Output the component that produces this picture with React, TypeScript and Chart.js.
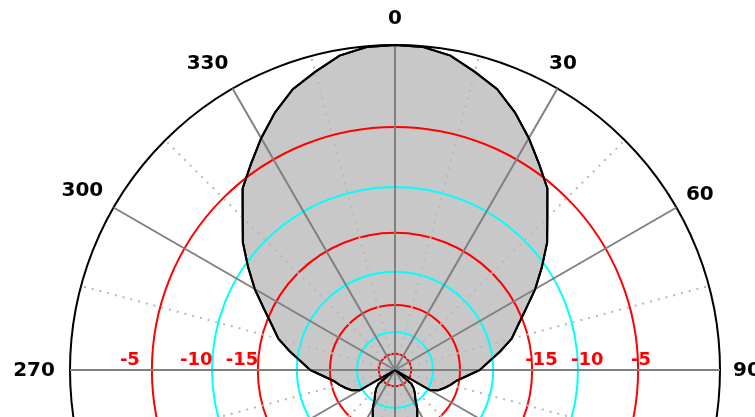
import React, { useEffect, useRef } from 'react';
import { Chart, registerables, RadialLinearScale } from 'chart.js';

Chart.register(...registerables);

// Azimuth angles (degrees, clockwise from top)
const ANGLES = [
  0, 5, 10, 15, 20, 25, 30, 35, 40, 45, 50, 55, 60, 65, 70, 75, 80, 85,
  90, 95, 100, 105, 110, 115, 120, 125, 130, 135, 140, 145, 150, 155, 160, 165, 170, 175,
  180, 185, 190, 195, 200, 205, 210, 215, 220, 225, 230, 235, 240, 245, 250, 255, 260, 265,
  270, 275, 280, 285, 290, 295, 300, 305, 310, 315, 320, 325, 330, 335, 340, 345, 350, 355,
];

// Relative gain in dB for each angle
const GAIN_DB = [
  0, -0.05, -0.35, -1.0, -1.6, -2.5, -3.5, -4.5, -5.5, -7.3, -8.7, -10.4, -12.3, -14.2, -15.8, -17.1, -18.9, -20.6,
  -22.0, -24.0, -25.5, -26.4, -27.3, -28.2, -29.5, -40, -33.8, -32.6, -31.6, -30.6, -28.8, -27.3, -26.3, -25.7, -25.2, -25.0,
  -24.9, -25.0, -25.2, -25.7, -26.3, -27.3, -28.8, -30.6, -31.6, -32.6, -33.8, -40, -29.5, -28.2, -27.3, -26.4, -25.5, -24.0,
  -22.0, -20.6, -18.9, -17.1, -15.8, -14.2, -12.3, -10.4, -8.7, -7.3, -5.5, -4.5, -3.5, -2.5, -1.6, -1.0, -0.35, -0.05,
];

// Log-style (ARRL-like) radial scale: ring dB values and their fraction of the outer radius
const RING_DB = [-40, -35, -30, -25, -20, -15, -10, -5, 0];
const RING_FRAC = [0, 0.05, 0.117, 0.2, 0.302, 0.422, 0.563, 0.748, 1];

const RING_LABELS = [-5, -10, -15];
const ANGLE_LABELS = [0, 30, 60, 90, 270, 300, 330];

function dbToFrac(v: number): number {
  if (v <= RING_DB[0]) return 0;
  for (let i = 1; i < RING_DB.length; i++) {
    if (v <= RING_DB[i]) {
      const t = (v - RING_DB[i - 1]) / (RING_DB[i] - RING_DB[i - 1]);
      return RING_FRAC[i - 1] + t * (RING_FRAC[i] - RING_FRAC[i - 1]);
    }
  }
  return 1;
}

class ArrlScale extends (RadialLinearScale as any) {
  static id = 'arrl';
  getDistanceFromCenterForValue(value: any) {
    if (value === null || value === undefined || isNaN(value)) return NaN;
    return (this as any).drawingArea * dbToFrac(value);
  }
}
Chart.register(ArrlScale as any);

function ringColor(v: number): string {
  if (v === 0) return '#000000';
  if (v <= -40) return 'rgba(0,0,0,0)';
  const k = Math.round(-v / 5);
  return k % 2 === 1 ? '#ff0000' : '#00ffff';
}

// small placement nudges for the angle labels (style only)
function labelNudge(a: number): [number, number] {
  if (a === 30) return [-8, -2];
  if (a === 330) return [-7, 5];
  return [0, 0];
}

const overlayPlugin = {
  id: 'overlay',
  afterDraw(chart: any) {
    const ctx = chart.ctx;
    const meta = chart.getDatasetMeta(0);
    if (meta && meta.dataset) meta.dataset.draw(ctx, chart.chartArea);
    const s = chart.scales.r;
    const cx = s.xCenter;
    const cy = s.yCenter;
    const R = s.drawingArea;
    ctx.save();
    // angle labels
    ctx.fillStyle = '#000000';
    ctx.font = 'bold 20px "DejaVu Sans"';
    ctx.textAlign = 'center';
    ctx.textBaseline = 'middle';
    ANGLE_LABELS.forEach((a) => {
      const rad = (a * Math.PI) / 180;
      const sin = Math.sin(rad);
      const d = R + (sin < -0.01 ? 36 : 27);
      const [nx, ny] = labelNudge(a);
      ctx.fillText(String(a), cx + d * sin + nx, cy - d * Math.cos(rad) + 1 + ny);
    });
    // ring labels along horizontal axis
    ctx.fillStyle = '#ff0000';
    ctx.font = 'bold 18px "DejaVu Sans"';
    ctx.textAlign = 'left';
    ctx.textBaseline = 'alphabetic';
    RING_LABELS.forEach((v) => {
      const r = s.getDistanceFromCenterForValue(v);
      ctx.fillText(String(v), cx + r - 7, cy - 5);
      ctx.fillText(String(v), cx - r - 32, cy - 5);
    });
    ctx.restore();
  },
};

export default function App() {
  const ref = useRef<HTMLCanvasElement | null>(null);
  useEffect(() => {
    if (!ref.current) return;
    const chart = new Chart(ref.current, {
      type: 'radar',
      data: {
        labels: ANGLES.map(String),
        datasets: [
          {
            data: GAIN_DB,
            borderColor: '#000000',
            borderWidth: 2,
            backgroundColor: '#c8c8c8',
            fill: 'start',
            pointRadius: 0,
            pointHoverRadius: 0,
            tension: 0,
          },
        ],
      },
      options: {
        animation: false,
        responsive: false,
        maintainAspectRatio: false,
        devicePixelRatio: 1,
        events: [],
        layout: { padding: { left: 70, right: 35, top: 45, bottom: 45 } },
        plugins: { legend: { display: false }, tooltip: { enabled: false } },
        scales: {
          r: {
            type: 'arrl' as any,
            min: -40,
            max: 0,
            startAngle: 0,
            ticks: { display: false, stepSize: 5, z: 1 },
            pointLabels: { display: false },
            grid: {
              circular: true,
              z: 1,
              color: (c: any) => ringColor(c.tick ? c.tick.value : 0),
              lineWidth: 2,
            },
            angleLines: {
              display: true,
              color: (c: any) => (c.index % 6 === 0 ? '#808080' : c.index % 6 === 3 ? '#b8b8b8' : 'rgba(0,0,0,0)'),
              lineWidth: (c: any) => (c.index % 3 === 0 ? 2 : 0),
              borderDash: (c: any) => (c.index % 6 === 3 ? [2, 6] : []),
            },
          } as any,
        },
      } as any,
      plugins: [overlayPlugin],
    });
    return () => chart.destroy();
  }, []);
  return (
    <div style={{ position: 'absolute', left: 0, top: 0, width: 755, height: 417, overflow: 'hidden', background: '#fff' }}>
      <canvas ref={ref} width={755} height={740} style={{ display: 'block', width: 755, height: 740 }} />
    </div>
  );
}
